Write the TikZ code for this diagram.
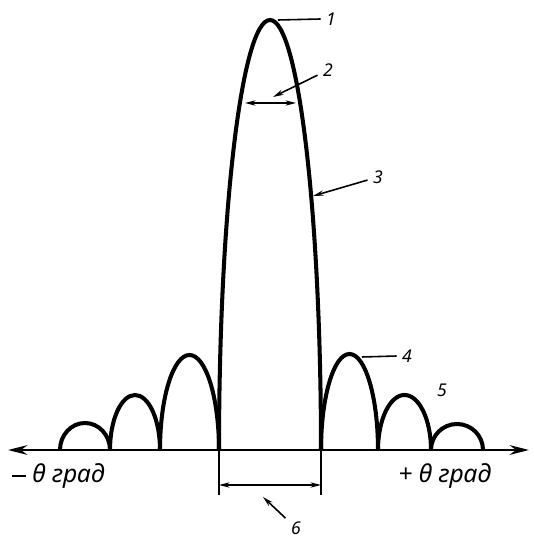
\documentclass[tikz,border=0pt]{standalone}
\usepackage{fontspec}
\setmainfont{Noto Sans}
\usetikzlibrary{arrows.meta}

\begin{document}
\begin{tikzpicture}[x=0.02cm,y=0.02cm,
  lobe/.style={line width=2.3pt},
  axisline/.style={line width=1.4pt,{Stealth[length=11pt,width=5.5pt]}-{Stealth[length=11pt,width=5.5pt]}},
  lead/.style={line width=0.9pt},
  leadarrow/.style={line width=0.9pt,-{Stealth[length=6pt,width=3pt]}},
  dimline/.style={line width=0.7pt,{Stealth[length=6pt,width=3pt]}-{Stealth[length=6pt,width=3pt]}},
  num/.style={font=\itshape\fontsize{10}{12}\selectfont,inner sep=3pt},
  axlabel/.style={font=\itshape\fontsize{14}{16}\selectfont,inner sep=0pt,anchor=base west}]
\useasboundingbox (0,0) rectangle (534,538);

  \coordinate (AL) at (8,88);
  \coordinate (AR) at (529,88);
  \draw[axisline] (AL) -- (AR);

  % main lobe
  \coordinate (M0) at (219,88);
  \draw[lobe] (M0) arc[start angle=180,end angle=0,x radius=51,y radius=430];

  % side lobes, left
  \coordinate (L1) at (160,88);
  \coordinate (L2) at (110,88);
  \coordinate (L3) at (60,88);
  \draw[lobe] (L1) arc[start angle=180,end angle=0,x radius=29.5,y radius=95];
  \draw[lobe] (L2) arc[start angle=180,end angle=0,x radius=25,y radius=55];
  \draw[lobe] (L3) arc[start angle=180,end angle=0,x radius=25,y radius=27];

  % side lobes, right
  \coordinate (R1) at (321,88);
  \coordinate (R2) at (378,88);
  \coordinate (R3) at (431,88);
  \draw[lobe] (R1) arc[start angle=180,end angle=0,x radius=28.5,y radius=96];
  \draw[lobe] (R2) arc[start angle=180,end angle=0,x radius=26.5,y radius=55];
  \draw[lobe] (R3) arc[start angle=180,end angle=0,x radius=26,y radius=26];

  % labels
  \node[num] (n1) at (331,519) {1};
  \node[num] (n2) at (328,468) {2};
  \node[num] (n3) at (378,361) {3};
  \node[num] (n4) at (407,182) {4};
  \node[num] (n5) at (442,148) {5};
  \node[num] (n6) at (296,10) {6};

  \coordinate (P1) at (278,518);
  \coordinate (P2) at (273,441);
  \coordinate (P3) at (313,342);
  \coordinate (P4) at (362,181);
  \coordinate (P6) at (263,41);

  \draw[lead] (P1) -- (n1.west);
  \draw[leadarrow] (n2) -- (P2);
  \draw[leadarrow] (n3) -- (P3);
  \draw[lead] (P4) -- (n4.west);
  \draw[leadarrow] (n6) -- (P6);

  % beam width
  \coordinate (V1) at (245,435);
  \coordinate (V2) at (296,435);
  \draw[dimline] (V1) -- (V2);

  % base width
  \coordinate (E1) at (219,43);
  \coordinate (E2) at (321,43);
  \coordinate (W1) at (219,53);
  \coordinate (W2) at (321,53);
  \draw[line width=0.7pt] (M0) -- (E1);
  \draw[line width=0.7pt] (R1) -- (E2);
  \draw[dimline] (W1) -- (W2);

  \node[axlabel] (negl) at (12,55) {\rule[0.25em]{0.55em}{0.09em}\ θ град};
  \node[axlabel] (posl) at (398,55) {+ θ град};
\end{tikzpicture}
\end{document}
